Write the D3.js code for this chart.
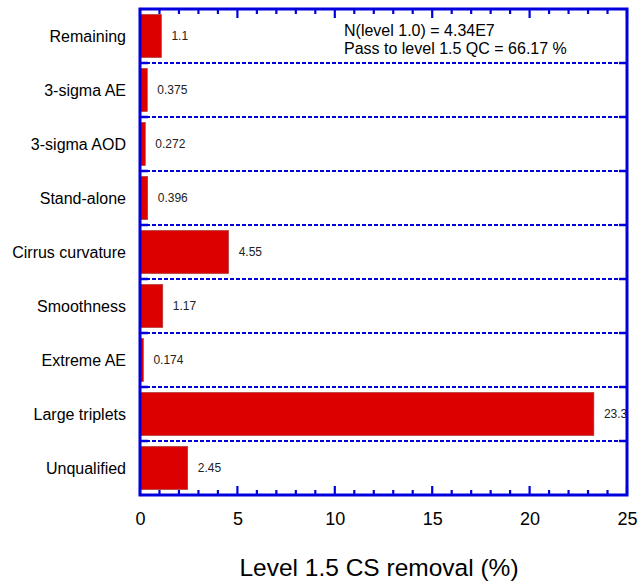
<!DOCTYPE html>
<html><head><meta charset="utf-8">
<script src="https://cdn.jsdelivr.net/npm/d3@7/dist/d3.min.js"></script>
<style>body{margin:0;background:#fff}svg{display:block}</style>
</head><body>
<svg id="c" width="638" height="582"></svg>
<script>
const categories = ["Remaining","3-sigma AE","3-sigma AOD","Stand-alone","Cirrus curvature","Smoothness","Extreme AE","Large triplets","Unqualified"];
const values = [1.1,0.375,0.272,0.396,4.55,1.17,0.174,23.3,2.45];
const valueLabels = ["1.1","0.375","0.272","0.396","4.55","1.17","0.174","23.3","2.45"];
const xTicks = [0,5,10,15,20,25];
const annotation = ["N(level 1.0) = 4.34E7","Pass to level 1.5 QC = 66.17 %"];
const xTitle = "Level 1.5 CS removal (%)";

const svg = d3.select("#c");
const m = {l:140, r:627, t:9, b:495};
const font = "Arial, 'Liberation Sans', sans-serif";
const blue = "#0000dd";
const x = d3.scaleLinear().domain([0,25]).range([m.l,m.r]);
const y = d3.scaleBand().domain(categories).range([m.t,m.b]).paddingInner(0).paddingOuter(0);
const bw = y.bandwidth();

// bars
svg.selectAll("rect.bar").data(values).join("rect")
  .attr("x", x(0)).attr("y",(d,i)=>y(categories[i])+bw*0.1)
  .attr("width", d=>x(d)-x(0)).attr("height", bw*0.8)
  .attr("fill","#dd0000").attr("stroke","#a04040").attr("stroke-width",0.6);

// value labels
svg.selectAll("text.val").data(values).join("text")
  .attr("x",d=>x(d)+10).attr("y",(d,i)=>y(categories[i])+bw/2+4)
  .attr("font-family",font).attr("font-size",12).attr("fill","#222")
  .text((d,i)=>valueLabels[i]);

// separators
const seps = categories.slice(1).map(c=>y(c));
svg.selectAll("line.sep").data(seps).join("line")
  .attr("x1",m.l).attr("x2",m.r).attr("y1",d=>d).attr("y2",d=>d)
  .attr("stroke",blue).attr("stroke-width",2).attr("stroke-dasharray","4,2");
seps.forEach(s=>{
  svg.append("line").attr("x1",m.l).attr("x2",m.l+8).attr("y1",s).attr("y2",s).attr("stroke",blue).attr("stroke-width",2.5);
  svg.append("line").attr("x1",m.r-8).attr("x2",m.r).attr("y1",s).attr("y2",s).attr("stroke",blue).attr("stroke-width",2.5);
});

// ticks (minor every 1, major every 5) on bottom and top, inward
const allTicks = d3.range(0,26,1);
allTicks.forEach(t=>{
  const len = t%5===0 ? 9 : 5;
  svg.append("line").attr("x1",x(t)).attr("x2",x(t)).attr("y1",m.b).attr("y2",m.b-len).attr("stroke",blue).attr("stroke-width",2.2);
  svg.append("line").attr("x1",x(t)).attr("x2",x(t)).attr("y1",m.t).attr("y2",m.t+len).attr("stroke",blue).attr("stroke-width",2.2);
});

// frame
svg.append("rect").attr("x",m.l).attr("y",m.t).attr("width",m.r-m.l).attr("height",m.b-m.t)
  .attr("fill","none").attr("stroke",blue).attr("stroke-width",3);

// x tick labels via axis
const ax = svg.append("g").attr("transform",`translate(0,${m.b})`)
  .call(d3.axisBottom(x).tickValues(xTicks).tickSize(0).tickPadding(17).tickFormat(d3.format("d")));
ax.select(".domain").remove();
ax.selectAll("text").attr("font-family",font).attr("font-size",18).attr("fill","#000");

// category labels
svg.selectAll("text.cat").data(categories).join("text")
  .attr("x",126).attr("y",d=>y(d)+bw/2+6)
  .attr("text-anchor","end").attr("font-family",font).attr("font-size",16).attr("fill","#000")
  .text(d=>d);

// annotation
annotation.forEach((t,i)=>{
  svg.append("text").attr("x",344).attr("y",36+i*18).attr("font-family",font).attr("font-size",16).attr("fill","#000").text(t);
});

// title
svg.append("text").attr("x",379).attr("y",576).attr("text-anchor","middle")
  .attr("font-family",font).attr("font-size",24.5).attr("fill","#000").text(xTitle);
</script>
</body></html>
